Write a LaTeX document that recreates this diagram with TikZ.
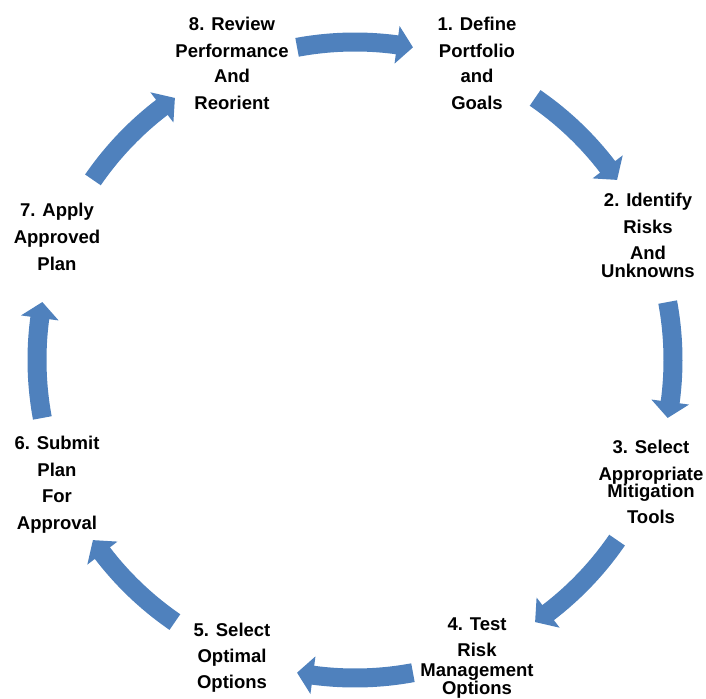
\documentclass[tikz,border=0pt]{standalone}
\usepackage{fontspec}
\setmainfont{Liberation Sans}
\definecolor{arrowblue}{HTML}{4F81BD}
\begin{document}
\begin{tikzpicture}[x=1pt,y=-1pt,
  lbl/.style={font=\fontsize{18.5}{26}\selectfont\bfseries, align=center, inner sep=0pt, anchor=north},
  blockarrow/.style={fill=arrowblue}]
\useasboundingbox (0,0) rectangle (706,698);
\foreach \cc in {-90,-45,0,45,90,135,180,225}{
  \pgfmathsetmacro\sa{\cc-10.5}
  \pgfmathsetmacro\sb{\cc+7.6}
  \pgfmathsetmacro\st{\cc+10.5}
  \fill[blockarrow] plot[domain=\sa:\sb,samples=30] ({355+327.5*cos(\x)},{360+327.5*sin(\x)})
    -- ({355+337*cos(\sb)},{360+337*sin(\sb)})
    -- ({355+318*cos(\st)},{360+318*sin(\st)})
    -- ({355+299*cos(\sb)},{360+299*sin(\sb)})
    -- plot[domain=\sb:\sa,samples=30] ({355+308.5*cos(\x)},{360+308.5*sin(\x)})
    -- cycle;
}
\node[lbl] (s8) at (232,17) {8. Review\\[1pt]Performance\\[-1pt]And\\[1pt]Reorient};
\node[lbl] (s1) at (477,17) {1. Define\\[1pt]Portfolio\\[-1pt]and\\[1pt]Goals};
\node[lbl] (s2) at (648,193) {2. Identify\\[1pt]Risks\\And\\[-8pt]Unknowns};
\node[lbl] (s3) at (651,440) {3. Select\\[1pt]Appropriate\\[-9pt]Mitigation\\[0pt]Tools};
\node[lbl] (s4) at (477,618) {4. Test\\Risk\\[-6pt]Management\\[-8pt]Options};
\node[lbl] (s5) at (232,623) {5. Select\\Optimal\\Options};
\node[lbl] (s6) at (57,436) {6. Submit\\[0.5pt]Plan\\[0.5pt]For\\[0.5pt]Approval};
\node[lbl] (s7) at (57,203) {7. Apply\\[1pt]Approved\\[1pt]Plan};
\end{tikzpicture}
\end{document}
